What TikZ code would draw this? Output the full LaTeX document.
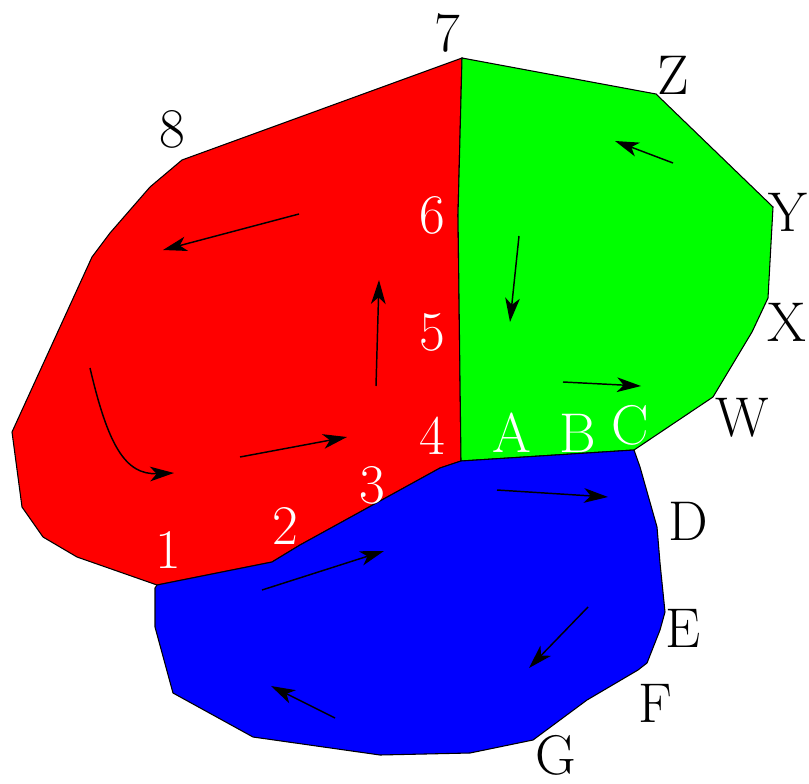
\documentclass[tikz,border=0pt]{standalone}
\usetikzlibrary{arrows.meta}
\begin{document}
\begin{tikzpicture}[x=0.75pt,y=-0.75pt,
  region/.style={draw=black,line width=0.8pt,line join=miter},
  flow/.style={draw=black,line width=1.1pt,-{Stealth[length=18pt,width=11pt,inset=5pt]}},
  blk/.style={text=black,font=\fontsize{42}{44}\selectfont,inner sep=0pt},
  wht/.style={text=white,font=\fontsize{42}{44}\selectfont,inner sep=0pt}]
\useasboundingbox (0,0) rectangle (809,784);
% regions
\fill[red,region] (462,58) -- (182,160) -- (150,187) -- (110,233) -- (92,257) -- (12,432) -- (22,507) -- (43,537) -- (77,557) -- (157,585) -- (272,562) -- (300,545) -- (440,468) -- (461,461) -- (458,215) -- cycle;
\fill[green,region] (462,58) -- (656,94) -- (773,207) -- (768,298) -- (752,332) -- (713,397) -- (634,450) -- (461,461) -- (458,215) -- cycle;
\fill[blue,region] (461,461) -- (634,450) -- (640,467) -- (657,527) -- (660,563) -- (665,612) -- (660,630) -- (647,663) -- (638,670) -- (587,700) -- (533,740) -- (470,753) -- (380,755) -- (253,737) -- (173,693) -- (155,627) -- (155,588) -- (157,585) -- (272,562) -- (300,545) -- (440,468) -- cycle;
% arrow end points
\coordinate (r1s) at (299,214); \coordinate (r1e) at (163,250);
\coordinate (r2s) at (90,368);  \coordinate (r2e) at (174,473);
\coordinate (r3s) at (240,457); \coordinate (r3e) at (347,437);
\coordinate (r4s) at (376,386); \coordinate (r4e) at (379,280);
\coordinate (g1s) at (673,163); \coordinate (g1e) at (615,141);
\coordinate (g2s) at (519,236); \coordinate (g2e) at (510,322);
\coordinate (g3s) at (563,382); \coordinate (g3e) at (641,386);
\coordinate (b1s) at (497,490); \coordinate (b1e) at (608,497);
\coordinate (b2s) at (262,590); \coordinate (b2e) at (384,551);
\coordinate (b3s) at (588,607); \coordinate (b3e) at (529,668);
\coordinate (b4s) at (335,718); \coordinate (b4e) at (271,686);
% arrows
\draw[flow] (r1s) -- (r1e);
\draw[flow] (r2s) .. controls (108,445) and (125,475) .. (r2e);
\draw[flow] (r3s) -- (r3e);
\draw[flow] (r4s) -- (r4e);
\draw[flow] (g1s) -- (g1e);
\draw[flow] (g2s) -- (g2e);
\draw[flow] (g3s) -- (g3e);
\draw[flow] (b1s) -- (b1e);
\draw[flow] (b2s) -- (b2e);
\draw[flow] (b3s) -- (b3e);
\draw[flow] (b4s) -- (b4e);
% black labels
\node[blk] (l7) at (447,33) {7};
\node[blk] (l8) at (172,129) {8};
\node[blk] (lZ) at (673,75) {Z};
\node[blk] (lY) at (788,212) {Y};
\node[blk] (lX) at (787,322) {X};
\node[blk] (lW) at (742,418) {W};
\node[blk] (lD) at (688,521) {D};
\node[blk] (lE) at (683,628) {E};
\node[blk] (lF) at (655,703) {F};
\node[blk] (lG) at (556,755) {G};
% white labels
\node[wht] (l6) at (432,215) {6};
\node[wht] (l5) at (432,332) {5};
\node[wht] (l4) at (432,436) {4};
\node[wht] (l3) at (372,485) {3};
\node[wht] (l2) at (285,526) {2};
\node[wht] (l1) at (168,550) {1};
\node[wht] (lA) at (512,433) {A};
\node[wht] (lB) at (578,433) {B};
\node[wht] (lC) at (630,425) {C};
\end{tikzpicture}
\end{document}
